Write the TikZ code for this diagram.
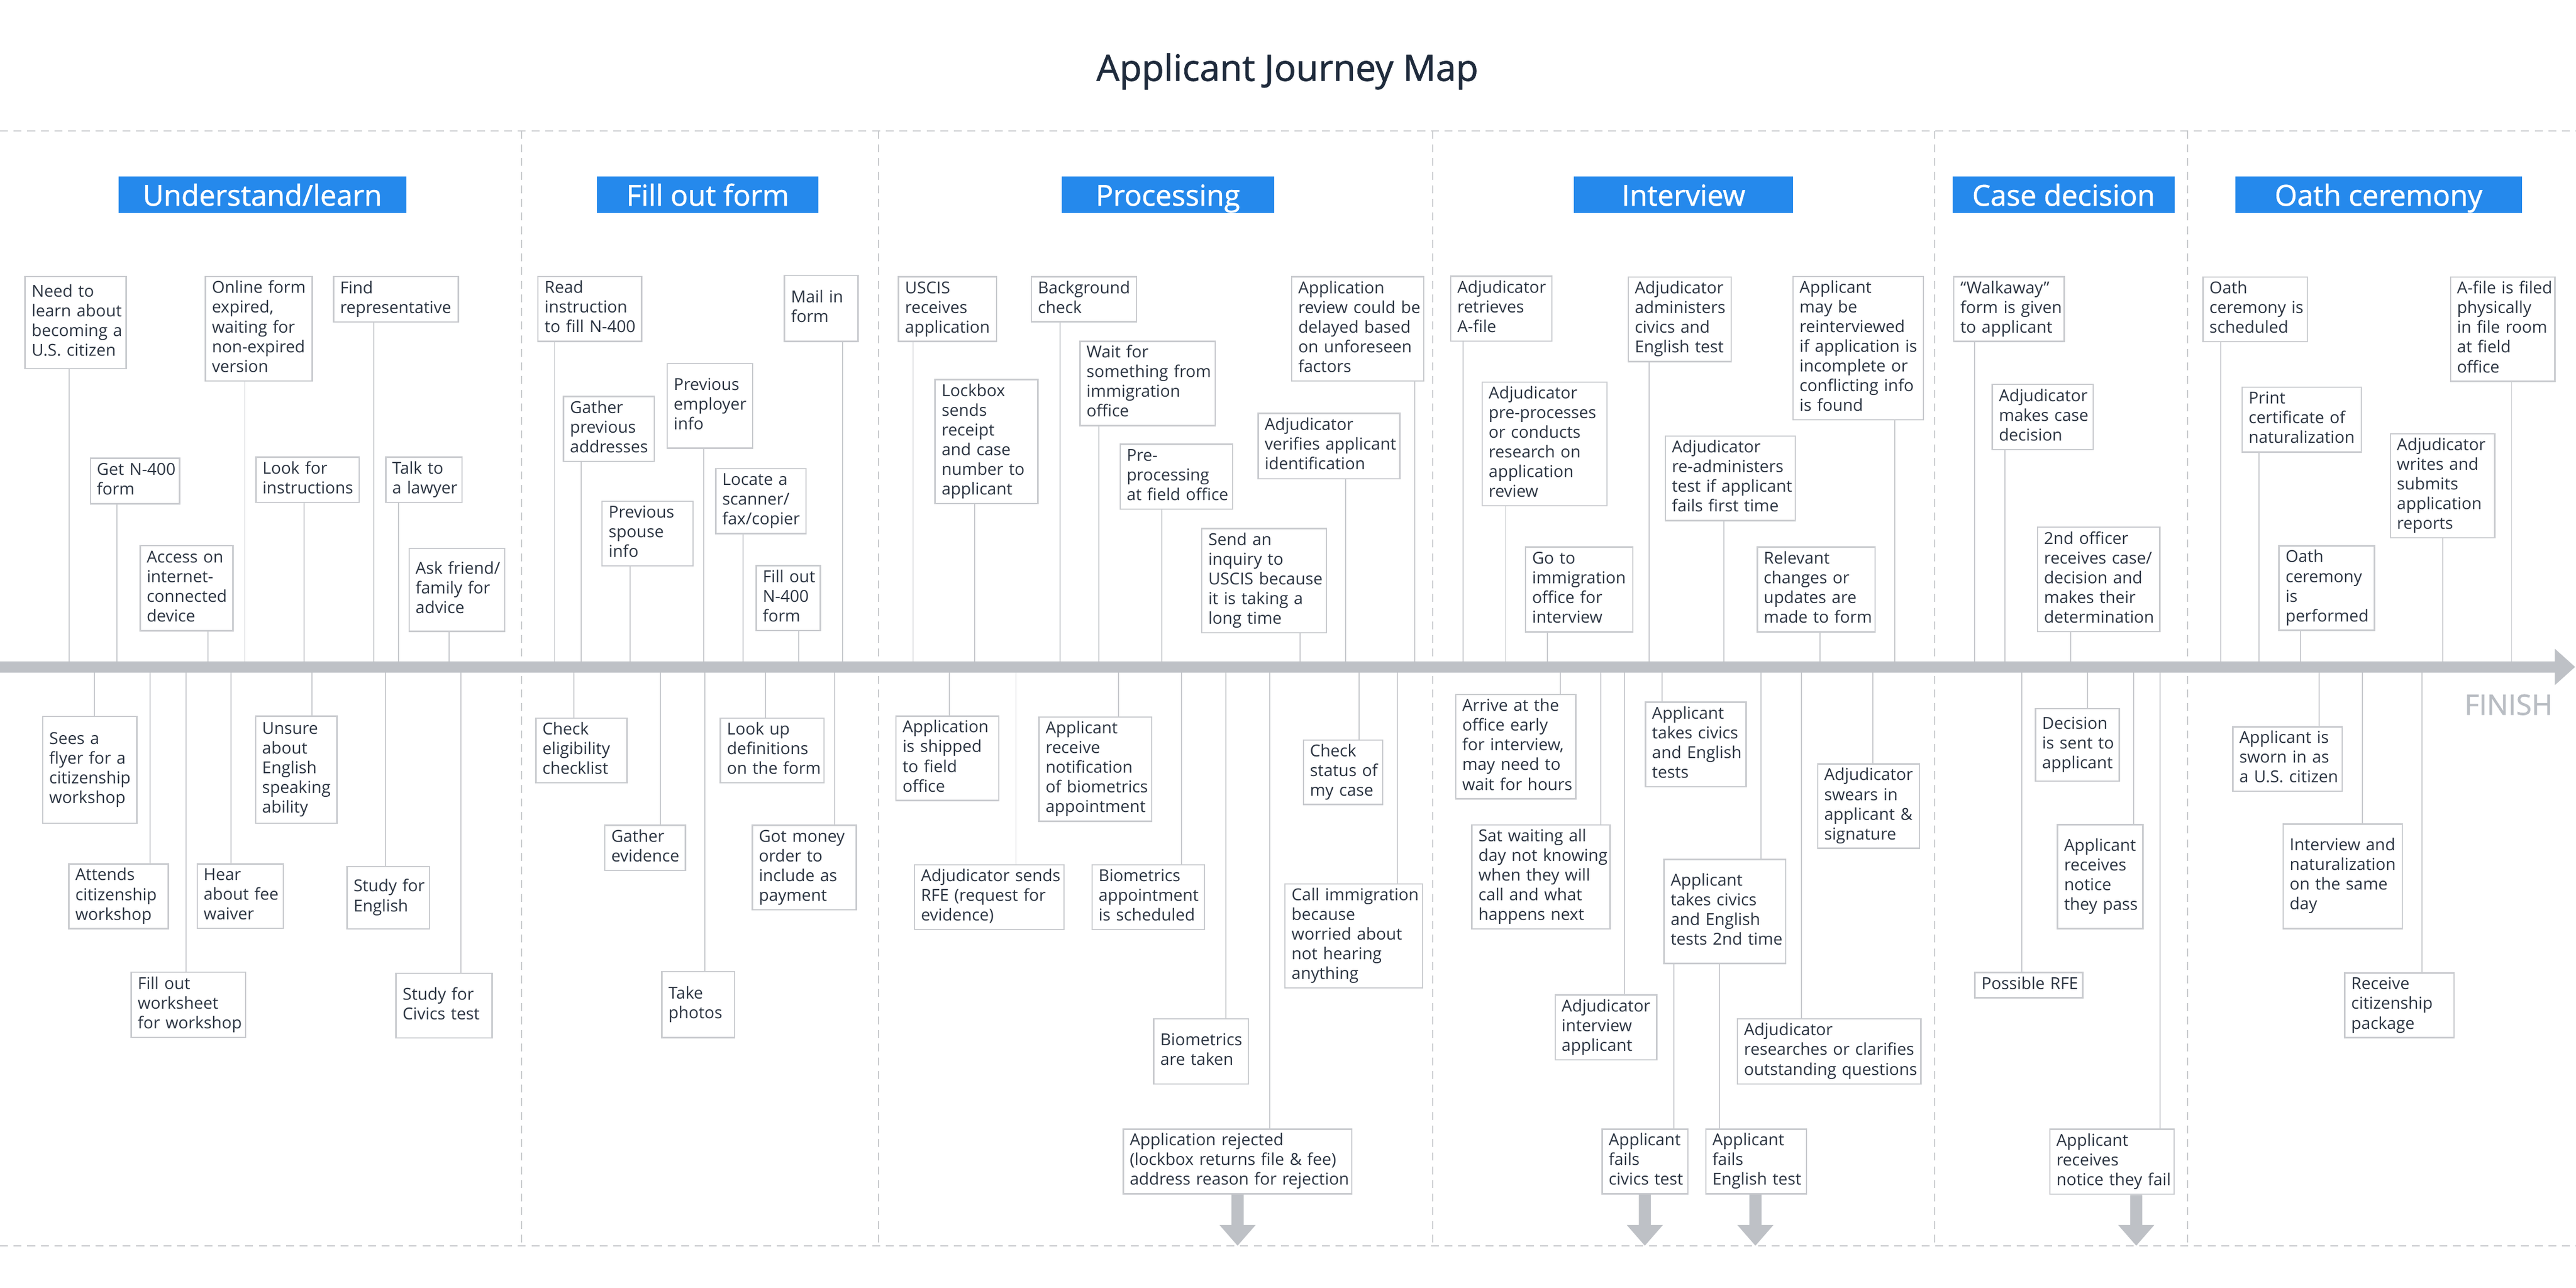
\documentclass[tikz,border=0pt]{standalone}
\usepackage{fontspec}
\setmainfont{Open Sans}
\newfontfamily\semib{Open Sans}[FakeBold=1.2]
\definecolor{hdrblue}{HTML}{2589EC}
\definecolor{txtcol}{HTML}{2C3542}
\definecolor{ttlcol}{HTML}{1F2B3C}
\definecolor{bordcol}{HTML}{C9CBCF}
\definecolor{conncol}{HTML}{C9CBCF}
\definecolor{tlgray}{HTML}{BEC1C6}
\definecolor{dashcol}{HTML}{C8CACD}
\definecolor{fincol}{HTML}{B9BDC3}
\tikzset{
  jb/.style={draw=bordcol, line width=0.7pt, fill=white, inner xsep=0.117cm, inner ysep=0pt,
    text=txtcol, align=left, font=\fontsize{8.35}{9.98}\selectfont},
  hdr/.style={fill=hdrblue, text=white, inner sep=0pt, minimum height=0.649cm,
    text height=11pt, text depth=0pt, font=\semib\fontsize{14.6}{16}\selectfont},
  cn/.style={draw=conncol, line width=0.55pt},
  dsh/.style={draw=dashcol, line width=0.55pt, dash pattern=on 4pt off 2.9pt},
}
\newcommand{\jbox}[6]{%
  \pgfmathsetmacro{\jbW}{(#4-#2)*0.02923}%
  \pgfmathsetmacro{\jbH}{(#5-#3)*0.02923}%
  \pgfmathsetmacro{\jbT}{(#4-#2-8)*0.02923}%
  \node[jb, minimum width=\jbW cm, minimum height=\jbH cm, text width=\jbT cm] (#1)
    at ({(#2+#4)/2},{(#3+#5)/2}) {\begin{tabular}{@{}l@{}}#6\end{tabular}};}
\newcommand{\hdrbox}[4]{%
  \pgfmathsetmacro{\jbW}{(#3-#2)*0.02923}%
  \node[hdr, minimum width=\jbW cm] (#1) at ({(#2+#3)/2},118.6) {#4};}
\newcommand{\upc}[2]{\draw[cn] (#1.south -| #2,0) -- (tl.north -| #2,0);}
\newcommand{\dnc}[2]{\draw[cn] (tl.south -| #2,0) -- (#1.north -| #2,0);}
\newcommand{\darr}[2]{%
  \pgfmathsetmacro{\aA}{#2-3.7}\pgfmathsetmacro{\aB}{#2+3.7}%
  \pgfmathsetmacro{\aC}{#2-11}\pgfmathsetmacro{\aD}{#2+11}%
  \fill[tlgray] (#1.south -| \aA,0) -- (\aA,745.8) -- (\aC,745.8) -- (#2,758.4)
    -- (\aD,745.8) -- (\aB,745.8) -- (#1.south -| \aB,0) -- cycle;}
\begin{document}
\begin{tikzpicture}[x=0.02923cm, y=-0.02923cm]
\useasboundingbox (0,0) rectangle (1568,784);
\fill[white] (0,0) rectangle (1568,784);
% title
\node[anchor=base, inner sep=0pt, text=ttlcol, font=\semib\fontsize{18.4}{21}\selectfont] (title) at (783.6,49.2) {Applicant Journey Map};
% frame dashed lines
\draw[dsh] (0,79.7) -- (1568,79.7);
\draw[dsh] (0,758.4) -- (1568,758.4);
\foreach \sx in {317.5,534.9,872.2,1177.7,1331.5} { \draw[dsh] (\sx,79.7) -- (\sx,758.4); }
% headers
\hdrbox{h1}{72.2}{247.2}{Understand/learn}
\hdrbox{h2}{363.3}{498.3}{Fill out form}
\hdrbox{h3}{646.2}{775.6}{Processing}
\hdrbox{h4}{958}{1091.4}{Interview}
\hdrbox{h5}{1188.6}{1323.6}{Case decision}
\hdrbox{h6}{1360.6}{1535}{Oath ceremony}
% timeline
\node[fill=tlgray, inner sep=0pt, outer sep=0pt, minimum width=45.48cm, minimum height=0.2017cm, anchor=north west] (tl) at (0,402.6) {};
\fill[tlgray] (tl.east) ++(-0.5,-11.05) -- ++(12.3,11.05) -- ++(-12.3,11.05) -- cycle;
\node[anchor=base east, inner sep=0pt, text=fincol, font=\semib\fontsize{14.3}{16}\selectfont] (finish) at (1553.9,435.2) {FINISH};
% ---------- Understand/learn ----------
\jbox{need}{15.3}{168.4}{76.8}{224.5}{Need to\\learn about\\becoming a\\U.S. citizen}
\jbox{online}{125}{168.4}{190}{231.9}{Online form\\expired,\\waiting for\\non-expired\\version}
\jbox{findrep}{203}{168.4}{279}{196}{Find\\representative}
\jbox{getn}{55}{279}{109.3}{306.7}{Get N-400\\form}
\jbox{access}{85.3}{332.2}{141.8}{384.1}{Access on\\internet-\\connected\\device}
\jbox{lookinstr}{155.8}{278.3}{218.6}{305.9}{Look for\\instructions}
\jbox{lawyer}{234.8}{278.3}{281.2}{305.9}{Talk to\\a lawyer}
\jbox{askfriend}{249}{333.9}{307.2}{384.4}{Ask friend/\\family for\\advice}
\jbox{flyer}{26}{436.3}{83.3}{501.3}{Sees a\\flyer for a\\citizenship\\workshop}
\jbox{attends}{41.9}{526}{102.5}{565.4}{Attends\\citizenship\\workshop}
\jbox{worksheet}{79.9}{591.9}{149.5}{631.6}{Fill out\\worksheet\\for workshop}
\jbox{feewaiver}{120}{526}{172.4}{565.2}{Hear\\about fee\\waiver}
\jbox{unsure}{155.6}{436}{205.1}{501.3}{Unsure\\about\\English\\speaking\\ability}
\jbox{studyeng}{211.2}{527.5}{261.4}{565.6}{Study for\\English}
\jbox{studyciv}{241.1}{592.6}{299.6}{631.9}{Study for\\Civics test}
\upc{need}{42.1} \upc{online}{149} \upc{findrep}{227.4} \upc{getn}{71.1}
\upc{access}{126.6} \upc{lookinstr}{185.2} \upc{lawyer}{242.6} \upc{askfriend}{273.4}
\dnc{flyer}{57.6} \dnc{attends}{91.2} \dnc{worksheet}{113.2} \dnc{feewaiver}{140.7}
\dnc{unsure}{189.8} \dnc{studyeng}{234.8} \dnc{studyciv}{280.4}
% ---------- Fill out form ----------
\jbox{readinstr}{327.5}{168.3}{390.6}{207.8}{Read\\instruction\\to fill N-400}
\jbox{mailin}{477.5}{167.6}{522.3}{207.8}{Mail in\\form}
\jbox{gatheraddr}{343}{241.4}{398.2}{280.9}{Gather\\previous\\addresses}
\jbox{prevemp}{406.1}{221.4}{458.2}{272.9}{Previous\\employer\\info}
\jbox{prevspouse}{366.5}{305.2}{421.8}{344.6}{Previous\\spouse\\info}
\jbox{scanner}{435.7}{285.3}{490.6}{324.9}{Locate a\\scanner/\\fax/copier}
\jbox{filln}{460.3}{344.4}{499.3}{383.9}{Fill out\\N-400\\form}
\jbox{checkelig}{326.2}{437.2}{381.7}{476.5}{Check\\eligibility\\checklist}
\jbox{gatherev}{368.1}{502.4}{417.3}{529.9}{Gather\\evidence}
\jbox{photos}{402.9}{591.5}{447.2}{631.7}{Take\\photos}
\jbox{lookup}{438.5}{437.2}{501.6}{476.5}{Look up\\definitions\\on the form}
\jbox{money}{457.9}{502.4}{521.3}{553.9}{Got money\\order to\\include as\\payment}
\upc{readinstr}{337.5} \upc{mailin}{512.9} \upc{gatheraddr}{353.7} \upc{prevemp}{428.3}
\upc{prevspouse}{383.6} \upc{scanner}{452.4} \upc{filln}{486.2}
\dnc{checkelig}{349.3} \dnc{gatherev}{401.9} \dnc{photos}{429.1} \dnc{lookup}{466} \dnc{money}{508.2}
% ---------- Processing ----------
\jbox{uscisrec}{546.9}{168.5}{606.6}{207.9}{USCIS\\receives\\application}
\jbox{bgcheck}{627.8}{168.5}{691.7}{195.9}{Background\\check}
\jbox{lockbox}{569.2}{231.1}{631.7}{306.6}{Lockbox\\sends\\receipt\\and case\\number to\\applicant}
\jbox{waitfor}{657.4}{207.8}{739.6}{259.1}{Wait for\\something from\\immigration\\office}
\jbox{preproc}{681.8}{270.4}{750.3}{310}{Pre-\\processing\\at field office}
\jbox{appreview}{786.3}{168.5}{866.7}{232}{Application\\review could be\\delayed based\\on unforeseen\\factors}
\jbox{verifies}{765.8}{251.7}{852}{291.5}{Adjudicator\\verifies applicant\\identification}
\jbox{inquiry}{731.5}{321.7}{807.5}{385.3}{Send an\\inquiry to\\USCIS because\\it is taking a\\long time}
\jbox{shipped}{545.4}{436}{607.9}{487.4}{Application\\is shipped\\to field\\office}
\jbox{rfe}{556.6}{526.5}{647.7}{565.8}{Adjudicator sends\\RFE (request for\\evidence)}
\jbox{notif}{632.5}{436.5}{701.1}{500}{Applicant\\receive\\notification\\of biometrics\\appointment}
\jbox{bioappt}{664.7}{526.5}{733.1}{565.8}{Biometrics\\appointment\\is scheduled}
\jbox{biotaken}{702.3}{620.3}{759.8}{659.9}{Biometrics\\are taken}
\jbox{rejected}{683.7}{687.5}{822.8}{726.8}{Application rejected\\(lockbox returns file \& fee)\\address reason for rejection}
\jbox{checkstatus}{793.4}{450.5}{841.6}{489.8}{Check\\status of\\my case}
\jbox{callimm}{782.2}{538.1}{865.9}{601.4}{Call immigration\\because\\worried about\\not hearing\\anything}
\upc{uscisrec}{555.8} \upc{bgcheck}{645.4} \upc{lockbox}{593.3} \upc{waitfor}{669}
\upc{preproc}{707.2} \upc{appreview}{861} \upc{verifies}{819} \upc{inquiry}{791.5}
\dnc{shipped}{577.8} \dnc{rfe}{618.4} \dnc{notif}{680.7} \dnc{bioappt}{719.2}
\dnc{biotaken}{746.2} \dnc{rejected}{772.9} \dnc{checkstatus}{827.2} \dnc{callimm}{850.4}
\darr{rejected}{753.3}
% ---------- Interview ----------
\jbox{retrieves}{883.1}{168.1}{944.7}{207.6}{Adjudicator\\retrieves\\A-file}
\jbox{preprocesses}{902.2}{232.7}{978.2}{308}{Adjudicator\\pre-processes\\or conducts\\research on\\application\\review}
\jbox{goto}{928.6}{333.1}{993.8}{384.8}{Go to\\immigration\\office for\\interview}
\jbox{administers}{991.1}{168.7}{1053.8}{220.2}{Adjudicator\\administers\\civics and\\English test}
\jbox{readmin}{1013.7}{265.5}{1092.8}{317}{Adjudicator\\re-administers\\test if applicant\\fails first time}
\jbox{relevant}{1069.6}{333.1}{1141.4}{384.8}{Relevant\\changes or\\updates are\\made to form}
\jbox{reinterview}{1091.4}{168.3}{1170.8}{255.6}{Applicant\\may be\\reinterviewed\\if application is\\incomplete or\\conflicting info\\is found}
\jbox{arrive}{886.1}{422.9}{959.2}{486.4}{Arrive at the\\office early\\for interview,\\may need to\\wait for hours}
\jbox{satwait}{895.9}{502.2}{980.1}{565.5}{Sat waiting all\\day not knowing\\when they will\\call and what\\happens next}
\jbox{interviewapp}{946.6}{605.8}{1008.5}{645.3}{Adjudicator\\interview\\applicant}
\jbox{takesA}{1001.6}{427.5}{1062.8}{478.9}{Applicant\\takes civics\\and English\\tests}
\jbox{takesB}{1012.9}{523.3}{1087}{586.6}{Applicant\\takes civics\\and English\\tests 2nd time}
\jbox{failcivics}{975.2}{687.5}{1027.4}{726.8}{Applicant\\fails\\civics test}
\jbox{faileng}{1038.3}{687.5}{1099.6}{726.8}{Applicant\\fails\\English test}
\jbox{researches}{1057.6}{620.3}{1169.3}{659.9}{Adjudicator\\researches or clarifies\\outstanding questions}
\jbox{swears}{1106.4}{465.1}{1168.3}{516.5}{Adjudicator\\swears in\\applicant \&\\signature}
\upc{retrieves}{890.7} \upc{preprocesses}{916.4} \upc{goto}{942} \upc{administers}{1003.9}
\upc{readmin}{1049.4} \upc{relevant}{1107.7} \upc{reinterview}{1153.3}
\dnc{arrive}{949.9} \dnc{satwait}{974.4} \dnc{interviewapp}{988.9} \dnc{takesA}{1011.8}
\dnc{takesB}{1071.8} \dnc{researches}{1096.4} \dnc{swears}{1139.9}
\draw[cn] (takesB.south -| 1018.9,0) -- (failcivics.north -| 1018.9,0);
\draw[cn] (takesB.south -| 1046.7,0) -- (faileng.north -| 1046.7,0);
\darr{failcivics}{1001.2}
\darr{faileng}{1068.5}
% ---------- Case decision ----------
\jbox{walkaway}{1189.3}{168.5}{1256.5}{207.9}{“Walkaway”\\form is given\\to applicant}
\jbox{makes}{1212.7}{234.1}{1274}{273.7}{Adjudicator\\makes case\\decision}
\jbox{second}{1240.2}{321}{1314.7}{384.6}{2nd officer\\receives case/\\decision and\\makes their\\determination}
\jbox{decsent}{1239}{431.4}{1290}{475.5}{Decision\\is sent to\\applicant}
\jbox{pass}{1252.4}{502}{1304.3}{565.3}{Applicant\\receives\\notice\\they pass}
\jbox{possrfe}{1202.1}{592}{1267.8}{607.5}{Possible RFE}
\jbox{failnotice}{1247.7}{687.5}{1323.4}{727.1}{Applicant\\receives\\notice they fail}
\upc{walkaway}{1201.8} \upc{makes}{1220.5} \upc{second}{1260.3}
\dnc{decsent}{1270.6} \dnc{pass}{1298.7} \dnc{possrfe}{1230.6} \dnc{failnotice}{1314.7}
\darr{failnotice}{1300.3}
% ---------- Oath ceremony ----------
\jbox{oathsched}{1340.9}{168.7}{1404.4}{208.1}{Oath\\ceremony is\\scheduled}
\jbox{print}{1364.7}{235.7}{1437.2}{275.3}{Print\\certificate of\\naturalization}
\jbox{performed}{1387.2}{332.4}{1445.3}{383.7}{Oath\\ceremony\\is\\performed}
\jbox{writes}{1455}{264.1}{1518.5}{327.5}{Adjudicator\\writes and\\submits\\application\\reports}
\jbox{afile}{1491.6}{168.7}{1555.1}{232.2}{A-file is filed\\physically\\in file room\\at field\\office}
\jbox{sworn}{1359.1}{442.5}{1425.7}{481.8}{Applicant is\\sworn in as\\a U.S. citizen}
\jbox{sameday}{1389.7}{501.7}{1462.2}{565.3}{Interview and\\naturalization\\on the same\\day}
\jbox{package}{1427.2}{592.4}{1493.8}{631.7}{Receive\\citizenship\\package}
\upc{oathsched}{1351.6} \upc{print}{1375} \upc{performed}{1400.3} \upc{writes}{1487} \upc{afile}{1528.8}
\dnc{sworn}{1411.6} \dnc{sameday}{1437.9} \dnc{package}{1474.1}
\end{tikzpicture}
\end{document}
